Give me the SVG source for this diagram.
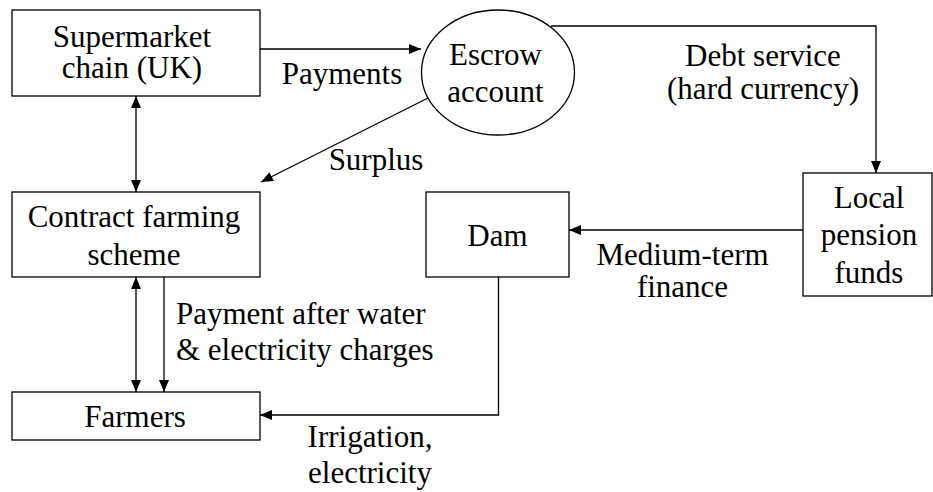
<svg xmlns="http://www.w3.org/2000/svg" width="933" height="492" viewBox="0 0 933 492">
<style>
  text { font-family: 'Liberation Serif' !important; font-size: 31px; fill: #000; }
  .box { fill: #fff; stroke: #000; stroke-width: 1.3; }
  .con { fill: none; stroke: #000; stroke-width: 1.3; }
</style>
<defs>
  <marker id="ah" viewBox="0 0 12 10" refX="12" refY="5" markerWidth="12" markerHeight="10" markerUnits="userSpaceOnUse" orient="auto-start-reverse">
    <path d="M0,0 L12,5 L0,10 Z" fill="#000"/>
  </marker>
</defs>
<rect width="933" height="492" fill="#fff"/>

<g id="connectors">
  <line class="con" x1="260" y1="49" x2="421" y2="49" marker-end="url(#ah)"/>
  <polyline class="con" points="551,26 876,26 876,173" marker-end="url(#ah)"/>
  <line class="con" x1="431" y1="96.5" x2="261" y2="182" marker-end="url(#ah)"/>
  <line class="con" x1="136" y1="96" x2="136" y2="192" marker-start="url(#ah)" marker-end="url(#ah)"/>
  <line class="con" x1="803" y1="230" x2="569" y2="230" marker-end="url(#ah)"/>
  <line class="con" x1="136" y1="277" x2="136" y2="392" marker-start="url(#ah)" marker-end="url(#ah)"/>
  <line class="con" x1="164" y1="277" x2="164" y2="392" marker-end="url(#ah)"/>
  <polyline class="con" points="498.5,277 498.5,415 260,415" marker-end="url(#ah)"/>
</g>

<g id="labels">
  <text style="font-family:'Liberation Serif' !important" font-family="Liberation Serif" x="342" y="84" text-anchor="middle">Payments</text>
  <text style="font-family:'Liberation Serif' !important" font-family="Liberation Serif" x="763" y="66" text-anchor="middle">Debt service</text>
  <text style="font-family:'Liberation Serif' !important" font-family="Liberation Serif" x="763" y="99" text-anchor="middle">(hard currency)</text>
  <text style="font-family:'Liberation Serif' !important" font-family="Liberation Serif" x="376" y="170" text-anchor="middle">Surplus</text>
  <text style="font-family:'Liberation Serif' !important" font-family="Liberation Serif" x="682.5" y="265" text-anchor="middle">Medium-term</text>
  <text style="font-family:'Liberation Serif' !important" font-family="Liberation Serif" x="682.5" y="297" text-anchor="middle">finance</text>
  <text style="font-family:'Liberation Serif' !important" font-family="Liberation Serif" x="176" y="324">Payment after water</text>
  <text style="font-family:'Liberation Serif' !important" font-family="Liberation Serif" x="176" y="360">&amp; electricity charges</text>
  <text style="font-family:'Liberation Serif' !important" font-family="Liberation Serif" x="370" y="447" text-anchor="middle">Irrigation,</text>
  <text style="font-family:'Liberation Serif' !important" font-family="Liberation Serif" x="370" y="483" text-anchor="middle">electricity</text>
</g>

<g id="supermarket">
  <rect class="box" x="12" y="10" width="248" height="86"/>
  <text style="font-family:'Liberation Serif' !important" font-family="Liberation Serif" x="132" y="46.5" text-anchor="middle">Supermarket</text>
  <text style="font-family:'Liberation Serif' !important" font-family="Liberation Serif" x="132" y="78" text-anchor="middle">chain (UK)</text>
</g>
<g id="escrow">
  <ellipse class="box" cx="498" cy="72.5" rx="76.5" ry="62.5"/>
  <text style="font-family:'Liberation Serif' !important" font-family="Liberation Serif" x="495.5" y="65" text-anchor="middle">Escrow</text>
  <text style="font-family:'Liberation Serif' !important" font-family="Liberation Serif" x="495.5" y="101.5" text-anchor="middle">account</text>
</g>
<g id="contract">
  <rect class="box" x="12" y="192" width="248" height="85"/>
  <text style="font-family:'Liberation Serif' !important" font-family="Liberation Serif" x="134" y="227" text-anchor="middle">Contract farming</text>
  <text style="font-family:'Liberation Serif' !important" font-family="Liberation Serif" x="134" y="265" text-anchor="middle">scheme</text>
</g>
<g id="dam">
  <rect class="box" x="426" y="192" width="143" height="85"/>
  <text style="font-family:'Liberation Serif' !important" font-family="Liberation Serif" x="497.5" y="246" text-anchor="middle">Dam</text>
</g>
<g id="pension">
  <rect class="box" x="803" y="173" width="129" height="123"/>
  <text style="font-family:'Liberation Serif' !important" font-family="Liberation Serif" x="869" y="208" text-anchor="middle">Local</text>
  <text style="font-family:'Liberation Serif' !important" font-family="Liberation Serif" x="869" y="245" text-anchor="middle">pension</text>
  <text style="font-family:'Liberation Serif' !important" font-family="Liberation Serif" x="869" y="283" text-anchor="middle">funds</text>
</g>
<g id="farmers">
  <rect class="box" x="12" y="392" width="248" height="48"/>
  <text style="font-family:'Liberation Serif' !important" font-family="Liberation Serif" x="135" y="427" text-anchor="middle">Farmers</text>
</g>
</svg>
